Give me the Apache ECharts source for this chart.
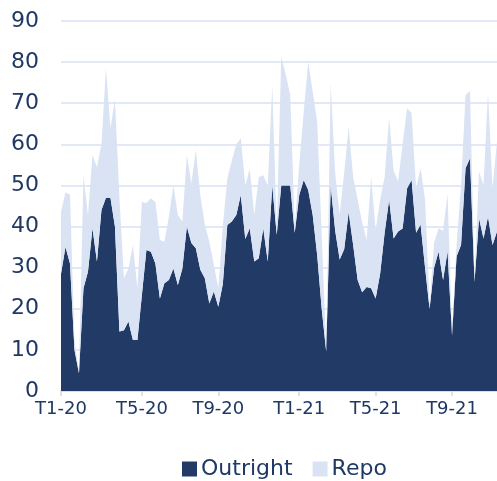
<!DOCTYPE html>
<html>
<head>
<meta charset="utf-8">
<script src="https://cdn.jsdelivr.net/npm/echarts@6/dist/echarts.min.js"></script>
<style>
  html, body { margin: 0; padding: 0; background: #fff; }
  #main { width: 497px; height: 481px; }
</style>
</head>
<body>
<div id="main"></div>
<script>
// weekly values, Jan 2020 -> Dec 2021
const outright = [
  28.5, 35, 31, 10, 4.3, 25, 29, 39.6, 31.5, 44, 47, 47, 40, 14.5, 14.8, 16.9, 12.4, 12.4, 23.4, 34.3,
  33.9, 31, 22.5, 26.2, 27, 29.8, 25.8, 29.8, 40, 36, 34.7, 29.5, 27.4, 21.3, 24.2, 20.5, 26, 40.4, 41.2, 42.8,
  47.7, 37, 39.6, 31.5, 32.3, 39.6, 31.5, 50, 38, 50, 50, 50, 38.5, 47.7, 51.3, 48.9, 42.8, 33, 20, 9.6,
  50, 39, 32, 34.5, 43.5, 35.5, 27, 24, 25.3, 25, 22.5, 28.5, 38.5, 46.5, 37.1, 38.8, 39.5, 49.3, 51.3, 38.5,
  40.5, 30, 20, 30, 33.9, 27, 34, 13.5, 32.7, 35.5, 54.2, 56.6, 26.6, 42, 37.1, 42.4, 35.5, 38.8
];
const repo = [
  15.1, 13.3, 16.8, 2, 0.7, 27.5, 13.8, 17.8, 23, 16, 31.5, 17, 31, 32.5, 12.6, 12.9, 23.1, 12.6, 22.6, 11.4,
  13, 15, 14.2, 10.1, 15.4, 20.2, 17, 11.4, 17.4, 14.5, 23.9, 18, 13.1, 15, 6.5, 4.5, 14, 11.3, 14.8, 17.2,
  13.8, 13, 14.4, 11.3, 19.7, 12.9, 18.5, 24.5, 1.6, 31.3, 27, 22, 1.5, 7.3, 16.7, 31.2, 30, 32.5, 18, 0.4,
  25, 14, 11, 18.5, 20.8, 16.5, 19.5, 17, 11.4, 27, 16.7, 18, 13.5, 20, 16.5, 12.2, 20.5, 19.5, 16.3, 10.8,
  13.7, 16.5, 1, 6, 5.7, 12, 14, 0.5, 2.8, 14.5, 17.8, 16.4, 0.4, 11.4, 12.9, 30.4, 13.8, 21.9
];
const labelMonths = [1, 5, 9];

// one category per week
const weeks = [];
for (let i = 0; i < outright.length; i++) {
  weeks.push(new Date(Date.UTC(2020, 0, 1 + 7 * i)));
}
const categories = weeks.map(d => d.toISOString().slice(0, 10));

function isLabelWeek(idx) {
  const d = weeks[idx];
  return labelMonths.indexOf(d.getUTCMonth() + 1) >= 0 && d.getUTCDate() <= 7;
}

const txt = '#1f3864';
let myChart = echarts.init(document.getElementById('main'));
let option = {
  animation: false,
  color: ['#213a66', '#dae3f3'],
  grid: { left: 61, right: 0, top: 21, bottom: 90 },
  legend: {
    top: 453,
    left: 177,
    itemWidth: 15,
    itemHeight: 15,
    itemGap: 20,
    icon: 'rect',
    textStyle: { color: txt, fontSize: 22, fontFamily: 'DejaVu Sans', padding: [0, 0, 0, -1] },
    data: ['Outright', 'Repo']
  },
  xAxis: {
    type: 'category',
    boundaryGap: false,
    data: categories,
    axisLine: { lineStyle: { color: '#d9d9d9', width: 1.5 } },
    axisTick: {
      interval: isLabelWeek,
      length: 5,
      lineStyle: { color: '#d9d9d9', width: 1.5 }
    },
    axisLabel: {
      interval: isLabelWeek,
      margin: 9,
      color: txt,
      fontSize: 18,
      fontFamily: 'DejaVu Sans',
      formatter: function (v) {
        const d = new Date(v + 'T00:00:00Z');
        return 'T' + (d.getUTCMonth() + 1) + '-' + String(d.getUTCFullYear()).slice(2);
      }
    }
  },
  yAxis: {
    type: 'value',
    min: 0,
    max: 90,
    interval: 10,
    axisLine: { show: false },
    axisTick: { show: false },
    splitLine: { lineStyle: { color: '#d9e1f2', width: 1.5 } },
    axisLabel: { color: txt, fontSize: 22, fontFamily: 'DejaVu Sans', margin: 22 }
  },
  series: [
    {
      name: 'Outright',
      type: 'line',
      stack: 'total',
      symbol: 'none',
      lineStyle: { width: 0 },
      areaStyle: { color: '#213a66', opacity: 1 },
      data: outright
    },
    {
      name: 'Repo',
      type: 'line',
      stack: 'total',
      symbol: 'none',
      lineStyle: { width: 0 },
      areaStyle: { color: '#dae3f3', opacity: 1 },
      data: repo
    }
  ]
};
myChart.setOption(option);
</script>
</body>
</html>
